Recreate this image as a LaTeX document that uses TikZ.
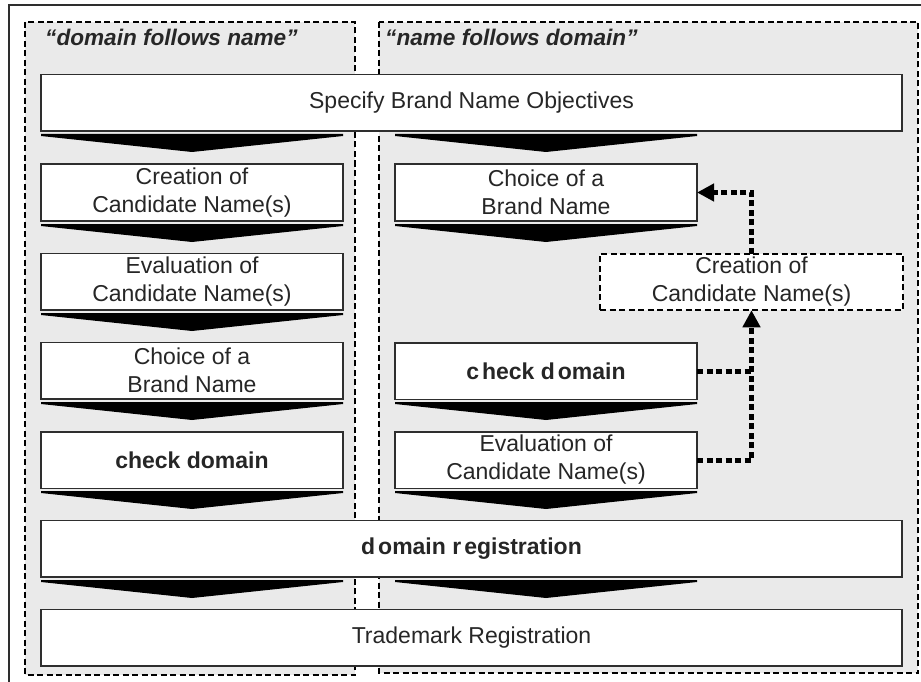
\documentclass[tikz,border=0pt]{standalone}
\usepackage{fontspec}
\setmainfont{Liberation Sans}
\usetikzlibrary{arrows.meta}
\definecolor{panelgray}{HTML}{EAEAEA}
\definecolor{ink}{HTML}{262626}
\definecolor{edge}{HTML}{2E2E2E}
\newcommand\boxfont{\fontsize{23}{28}\selectfont}
\newcommand\headfont{\fontsize{22.6}{28}\selectfont\bfseries\itshape}
% black chevron under a step: left x, right x, top y
\newcommand\flowchev[3]{\fill[black] (#1,#3) -- (#2,#3) -- (#2,#3+2) -- ({(#1+#2)/2},#3+18) -- (#1,#3+2) -- cycle;}

\begin{document}
\begin{tikzpicture}[x=1pt,y=-1pt,
  panel/.style={fill=panelgray, draw=black, line width=1.8pt, dash pattern=on 6pt off 3.5pt},
  heading/.style={anchor=base west, inner sep=0pt, text=ink, font=\headfont},
  stepbox/.style={draw=edge, fill=white, line width=1.5pt, minimum height=56.5pt,
    inner sep=0pt, outer sep=0pt, align=center, text=ink, font=\boxfont},
  colbox/.style={stepbox, minimum width=302pt},
  widebox/.style={stepbox, minimum width=861pt},
  optbox/.style={stepbox, draw=black, line width=1.8pt, dash pattern=on 6pt off 3.5pt, minimum width=303pt},
  link/.style={draw=black, line width=5pt, dash pattern=on 6pt off 3.5pt, line join=miter},
  tip/.style={-{Triangle[length=17pt,width=17pt]}}]

\path[use as bounding box] (0,0) rectangle (921,682);

% outer frame (only its top and left edges lie on the page)
\draw[draw=edge, line width=1.5pt] (921,5) -- (9,5) -- (9,682);

% the two approaches
\path[panel] (25,22) rectangle (355,675);
\path[panel] (379,22) rectangle (918,673);
\node[heading] (headL) at (45,46) {“domain follows name”};
\node[heading] (headR) at (385,46) {“name follows domain”};

% shared steps
\node[widebox] (spec) at (471.5,103) {Specify Brand Name Objectives};
\node[widebox] (dreg) at (471.5,548.5) {\bfseries d\kern3pt omain r\kern3pt egistration};
\node[widebox] (tm) at (471.5,637.5) {Trademark Registration};

% domain follows name
\node[colbox] (creL) at (192,192.5) {Creation of\\Candidate Name(s)};
\node[colbox] (evaL) at (192,281.5) {Evaluation of\\Candidate Name(s)};
\node[colbox] (choL) at (192,370.5) {Choice of a\\Brand Name};
\node[colbox] (chkL) at (192,460) {\bfseries check domain};

% name follows domain
\node[colbox] (choR) at (546,192.5) {Choice of a\\Brand Name};
\node[colbox] (chkR) at (546,371) {\bfseries c\kern3pt heck d\kern3pt omain};
\node[colbox] (evaR) at (546,460) {Evaluation of\\Candidate Name(s)};
\node[optbox] (creR) at (751.5,282) {Creation of\\Candidate Name(s)};

% chevrons between steps
\flowchev{41}{343}{134}
\flowchev{395}{697}{134}
\flowchev{41}{343}{224}
\flowchev{41}{343}{313}
\flowchev{41}{343}{402}
\flowchev{41}{343}{491}
\flowchev{395}{697}{224}
\flowchev{395}{697}{402}
\flowchev{395}{697}{491}
\flowchev{41}{343}{580}
\flowchev{395}{697}{580}

% feedback loop
\draw[link] (chkR.east) -- (chkR.east -| creR.south);
\draw[link, tip] (evaR.east) -- (evaR.east -| creR.south) -- (creR.south);
\draw[link, tip] (creR.north) |- (choR.east);
\end{tikzpicture}
\end{document}
